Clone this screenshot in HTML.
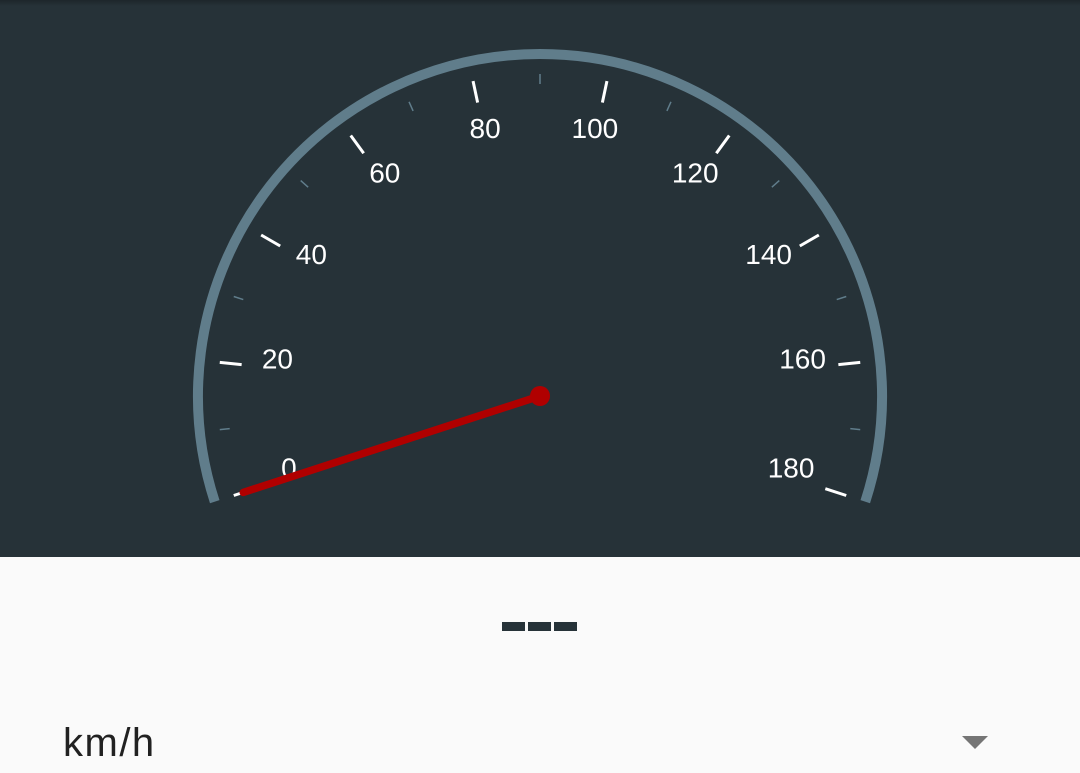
<!DOCTYPE html>
<html><head><meta charset="utf-8">
<style>
html,body{margin:0;padding:0;width:1080px;height:773px;overflow:hidden;background:#fafafa;font-family:"Liberation Sans",sans-serif;}
#top{position:absolute;left:0;top:0;width:1080px;height:557px;background:#263238;}
#shadow{position:absolute;left:0;top:0;width:1080px;height:6px;background:linear-gradient(#1d262b,#263238);}
#val{position:absolute;left:502px;top:622px;}
.dash{position:absolute;top:0;width:23px;height:9px;background:#263238;}
#unit{position:absolute;left:63px;top:721px;font-size:40px;letter-spacing:1.5px;color:#212121;}
#arrow{position:absolute;left:962px;top:736px;width:0;height:0;border-left:13px solid transparent;border-right:13px solid transparent;border-top:13px solid #757575;}
</style></head>
<body>
<div id="top">
<div id="shadow"></div>
<svg id="g" width="1080" height="557"></svg>
</div>
<div id="val">
<div class="dash" style="left:0"></div>
<div class="dash" style="left:26px"></div>
<div class="dash" style="left:52px"></div>
</div>
<div id="unit">km/h</div>
<div id="arrow"></div>
<script>
const majorTicks=[0,20,40,60,80,100,120,140,160,180];
const minorTicks=[10,30,50,70,90,110,130,150,170];
const tickLabels=["0","20","40","60","80","100","120","140","160","180"];
const needleValue=[0];
const minV=0,maxV=180;
const cx=540,cy=396;
const NS="http://www.w3.org/2000/svg";
const svg=document.getElementById('g');
function ang(v){return (-18+216*(v-minV)/(maxV-minV))*Math.PI/180;}
function pt(v,r){const a=ang(v);return [cx-r*Math.cos(a),cy-r*Math.sin(a)];}
function mk(t,attrs){const e=document.createElementNS(NS,t);for(const k in attrs)e.setAttribute(k,attrs[k]);svg.appendChild(e);return e;}
const R=342;const p0=pt(minV,R),p1=pt(maxV,R);
const arc=mk('path',{d:`M${p0[0]},${p0[1]} A${R},${R} 0 1 1 ${p1[0]},${p1[1]}`,fill:'none',stroke:'#607d8b','stroke-width':10});


minorTicks.forEach(v=>{const a=pt(v,312),b=pt(v,322);
const l=mk('line',{x1:a[0],y1:a[1],x2:b[0],y2:b[1],stroke:'#607d8b','stroke-width':1.5});

});
majorTicks.forEach((v,i)=>{const a=pt(v,300),b=pt(v,322);
const l=mk('line',{x1:a[0],y1:a[1],x2:b[0],y2:b[1],stroke:'#ffffff','stroke-width':3});


const c=pt(v,264);
const t=mk('text',{x:c[0],y:c[1],'text-anchor':'middle',fill:'#ffffff','font-size':28,'font-family':'Liberation Sans, sans-serif'});
t.textContent=tickLabels[i];

});
const ne=pt(needleValue[0],312);
const nl=mk('line',{x1:cx,y1:cy,x2:ne[0],y2:ne[1],stroke:'#b00000','stroke-width':7.5,'stroke-linecap':'round'});


const hub=mk('circle',{cx:cx,cy:cy,r:10,fill:'#b00000'});


</script>
</body></html>
